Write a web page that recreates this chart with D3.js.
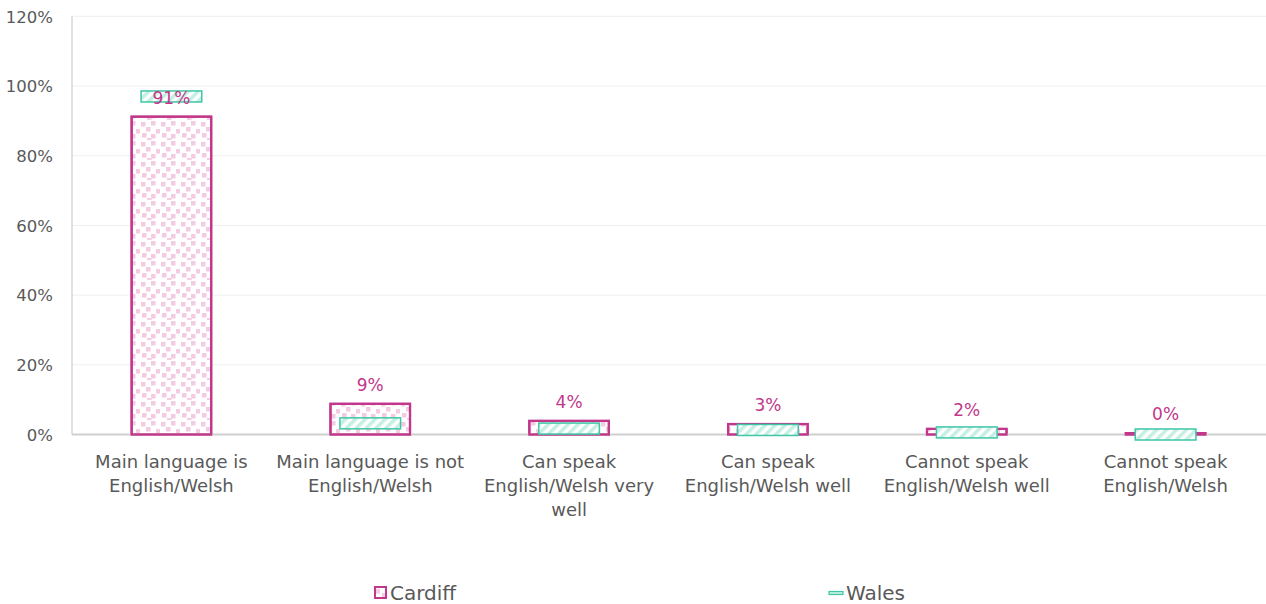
<!DOCTYPE html>
<html>
<head>
<meta charset="utf-8">
<script src="https://cdn.jsdelivr.net/npm/d3@7"></script>
<style>
  html, body { margin: 0; padding: 0; background: #fff; }
  svg { display: block; }
  text { font-family: "DejaVu Sans", sans-serif; }
</style>
</head>
<body>
<svg id="chart" width="1266" height="604"></svg>
<script>
// ---- Data ----
const categories = [
  "Main language is English/Welsh",
  "Main language is not English/Welsh",
  "Can speak English/Welsh very well",
  "Can speak English/Welsh well",
  "Cannot speak English/Welsh well",
  "Cannot speak English/Welsh"
];
const cardiffValues = [0.912, 0.088, 0.039, 0.030, 0.016, 0.004];
const walesValues   = [0.970, 0.032, 0.017, 0.013, 0.006, 0.000];
const seriesNames = ["Cardiff", "Wales"];
const yTicks = [0, 0.2, 0.4, 0.6, 0.8, 1.0, 1.2];

// ---- Setup ----
const svg = d3.select("#chart");
const W = 1266, H = 604;
const margin = { left: 72, right: 1, top: 16.3, bottom: 434.5 };
const pink = "#c2378b", teal = "#3ec6a6", textGrey = "#595959";

const x = d3.scaleBand().domain(categories).range([margin.left, W - margin.right]).padding(0);
const y = d3.scaleLinear().domain([0, 1.2]).range([margin.bottom, margin.top]);

// ---- Patterns ----
const defs = svg.append("defs");
const dots = defs.append("pattern").attr("id", "cardiffPat")
  .attr("patternUnits", "userSpaceOnUse").attr("width", 20).attr("height", 20);
dots.append("rect").attr("width", 20).attr("height", 20).attr("fill", "#fff");
[[1,2],[11,1],[6,7],[16,9],[2,13],[11,14],[7,18]].forEach(([a,b]) => {
  dots.append("rect").attr("x", a).attr("y", b).attr("width", 4.5).attr("height", 4.5).attr("fill", "#f3cbe2");
});
const hatch = defs.append("pattern").attr("id", "walesPat")
  .attr("patternUnits", "userSpaceOnUse").attr("width", 7).attr("height", 7)
  .attr("patternTransform", "rotate(45)");
hatch.append("rect").attr("width", 7).attr("height", 7).attr("fill", "#fff");
hatch.append("rect").attr("x", 0).attr("y", 0).attr("width", 3.5).attr("height", 7).attr("fill", "#c4efe3");

// ---- Gridlines ----
svg.append("g").selectAll("line").data(yTicks.filter(d => d > 0)).join("line")
  .attr("x1", margin.left).attr("x2", W)
  .attr("y1", d => y(d)).attr("y2", d => y(d))
  .attr("stroke", "#efefef").attr("stroke-width", 1);

// ---- Y axis ----
const yAxis = d3.axisLeft(y).tickValues(yTicks).tickFormat(d3.format(".0%")).tickSize(0).tickPadding(0);
const yg = svg.append("g").attr("transform", `translate(${margin.left - 30},0)`).call(yAxis);
yg.select(".domain").remove();
yg.selectAll("text").attr("font-size", 16.5).attr("fill", textGrey)
  .attr("x", 11).attr("dy", "0.35em");
svg.append("line").attr("x1", margin.left).attr("x2", margin.left)
  .attr("y1", y(1.2)).attr("y2", y(0)).attr("stroke", "#c4c4c4").attr("stroke-width", 1);

// ---- Cardiff bars ----
const barW = x.bandwidth() * 0.4;
svg.append("g").selectAll("rect").data(cardiffValues).join("rect")
  .attr("x", (d, i) => x(categories[i]) + x.bandwidth() / 2 - barW / 2)
  .attr("y", d => y(d))
  .attr("width", barW)
  .attr("height", d => y(0) - y(d))
  .attr("fill", "url(#cardiffPat)")
  .attr("stroke", pink).attr("stroke-width", 2.2);

// ---- Baseline ----
svg.append("line").attr("x1", margin.left).attr("x2", W)
  .attr("y1", y(0)).attr("y2", y(0)).attr("stroke", "#cfcfcf").attr("stroke-width", 2);

// redraw bar outlines over baseline
svg.append("g").selectAll("rect").data(cardiffValues).join("rect")
  .attr("x", (d, i) => x(categories[i]) + x.bandwidth() / 2 - barW / 2)
  .attr("y", d => y(d))
  .attr("width", barW)
  .attr("height", d => y(0) - y(d))
  .attr("fill", "none")
  .attr("stroke", pink).attr("stroke-width", 2.2);

// ---- Wales markers ----
const mW = x.bandwidth() * 0.305, mH = 11;
svg.append("g").selectAll("rect").data(walesValues).join("rect")
  .attr("x", (d, i) => x(categories[i]) + x.bandwidth() / 2 - mW / 2)
  .attr("y", d => y(d) - mH / 2)
  .attr("width", mW).attr("height", mH)
  .attr("fill", "url(#walesPat)")
  .attr("stroke", teal).attr("stroke-width", 1.5);

// ---- Data labels ----
svg.append("g").selectAll("text").data(cardiffValues).join("text")
  .attr("x", (d, i) => x(categories[i]) + x.bandwidth() / 2)
  .attr("y", d => y(d) - 13)
  .attr("text-anchor", "middle")
  .attr("font-size", 17).attr("fill", pink)
  .text(d => d3.format(".0%")(d));

// ---- X axis labels (wrapped) ----
const xg = svg.append("g");
categories.forEach(c => {
  const t = xg.append("text")
    .attr("x", x(c) + x.bandwidth() / 2).attr("y", 467.5)
    .attr("text-anchor", "middle").attr("font-size", 18).attr("fill", textGrey);
  const words = c.split(" ");
  let line = [];
  let tspan = t.append("tspan").attr("x", x(c) + x.bandwidth() / 2).attr("dy", 0);
  words.forEach(w => {
    line.push(w);
    tspan.text(line.join(" "));
    if (tspan.node().getComputedTextLength() > x.bandwidth() - 4 && line.length > 1) {
      line.pop();
      tspan.text(line.join(" "));
      line = [w];
      tspan = t.append("tspan").attr("x", x(c) + x.bandwidth() / 2).attr("dy", 24).text(w);
    }
  });
});

// ---- Legend ----
const lg = svg.append("g");
lg.append("rect").attr("x", 375).attr("y", 587).attr("width", 11).attr("height", 11)
  .attr("fill", "url(#cardiffPat)").attr("stroke", pink).attr("stroke-width", 2);
lg.append("text").attr("x", 390).attr("y", 600).attr("font-size", 20).attr("fill", textGrey).text(seriesNames[0]);
lg.append("rect").attr("x", 829).attr("y", 591.5).attr("width", 14).attr("height", 3)
  .attr("fill", "#c4efe3").attr("stroke", teal).attr("stroke-width", 1.2);
lg.append("text").attr("x", 846).attr("y", 600).attr("font-size", 20).attr("fill", textGrey).text(seriesNames[1]);
</script>
</body>
</html>
